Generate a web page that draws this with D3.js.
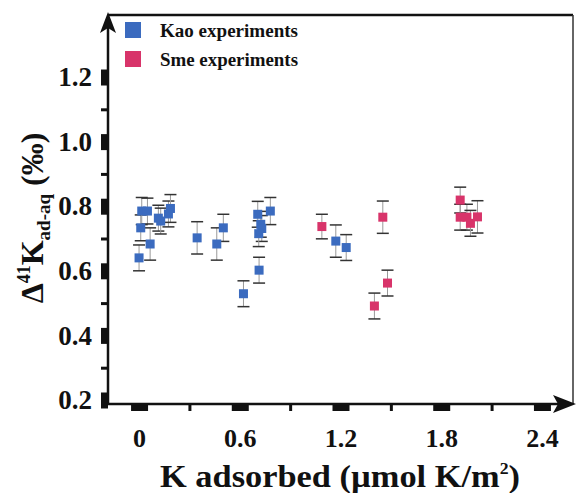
<!DOCTYPE html>
<html>
<head>
<meta charset="utf-8">
<script src="https://cdn.jsdelivr.net/npm/d3@7"></script>
<style>
  body { margin: 0; background: #fff; }
  svg text { font-family: "Liberation Serif", "Times New Roman", Tinos, "DejaVu Serif", serif; font-weight: bold; fill: #111; }
</style>
</head>
<body>
<svg id="chart"></svg>
<script>
// Kao experiments (blue)
const kaoX   = [0.00, 0.01, 0.016, 0.05, 0.066, 0.115, 0.129, 0.175, 0.187, 0.346, 0.463, 0.502, 0.622, 0.707, 0.725, 0.731, 0.713, 0.715, 0.782, 1.172, 1.234];
const kaoY   = [0.640, 0.733, 0.785, 0.785, 0.683, 0.763, 0.754, 0.776, 0.793, 0.702, 0.683, 0.733, 0.529, 0.775, 0.744, 0.731, 0.715, 0.602, 0.785, 0.692, 0.672];
const kaoErr = [0.04, 0.04, 0.042, 0.04, 0.05, 0.04, 0.04, 0.04, 0.043, 0.05, 0.05, 0.042, 0.04, 0.04, 0.04, 0.04, 0.04, 0.04, 0.042, 0.05, 0.04];

// Sme experiments (pink)
const smeX   = [1.089, 1.452, 1.402, 1.480, 1.913, 1.913, 1.953, 1.974, 2.016];
const smeY   = [0.737, 0.766, 0.491, 0.562, 0.819, 0.766, 0.766, 0.747, 0.767];
const smeErr = [0.038, 0.05, 0.04, 0.04, 0.04, 0.04, 0.04, 0.04, 0.05];

const xMajor = [0, 0.6, 1.2, 1.8, 2.4];
const xMinor = [0.3, 0.9, 1.5, 2.1];
const yMajor = [0.2, 0.4, 0.6, 0.8, 1.0, 1.2];
const yMinor = [0.3, 0.5, 0.7, 0.9, 1.1];

const seriesNames = ["Kao experiments", "Sme experiments"];
const colors = ["#3b6bbf", "#d8346a"];

const chartW = 576, chartH = 493;
const plotL = 108, plotR = 573, plotT = 15, plotB = 404;
const serif = '"Liberation Serif", "Times New Roman", Tinos, "DejaVu Serif", serif';

const svg = d3.select("#chart").attr("width", chartW).attr("height", chartH);

const x = d3.scaleLinear().domain([-0.185, 2.585]).range([plotL, plotR]);
const y = d3.scaleLinear().domain([0.1876, 1.392]).range([plotB, plotT]);

// y axis ticks (major = fat blocks, minor = short bars)
const yAxisMajor = svg.append("g").attr("transform", `translate(${plotL},0)`)
    .call(d3.axisLeft(y).tickValues(yMajor).tickSize(7).tickPadding(9)
        .tickFormat(d3.format(".1f")));
yAxisMajor.attr("font-family", serif).attr("font-size", 27);
yAxisMajor.select(".domain").remove();
yAxisMajor.selectAll(".tick line").attr("stroke", "#111").attr("stroke-width", 16);
yAxisMajor.selectAll(".tick text").attr("fill", "#111");

const yAxisMinor = svg.append("g").attr("transform", `translate(${plotL},0)`)
    .call(d3.axisLeft(y).tickValues(yMinor).tickSize(7).tickFormat(""));
yAxisMinor.select(".domain").remove();
yAxisMinor.selectAll(".tick line").attr("stroke", "#111").attr("stroke-width", 3);

// x axis ticks
const xAxisMajor = svg.append("g").attr("transform", `translate(0,${plotB})`)
    .call(d3.axisBottom(x).tickValues(xMajor).tickSize(7)
        .tickFormat(d => d === 0 ? "0" : d3.format(".1f")(d)));
xAxisMajor.attr("font-family", serif).attr("font-size", 26);
xAxisMajor.select(".domain").remove();
xAxisMajor.selectAll(".tick line").attr("stroke", "#111").attr("stroke-width", 17);
xAxisMajor.selectAll(".tick text").attr("y", 43).attr("dy", 0).attr("fill", "#111");

const xAxisMinor = svg.append("g").attr("transform", `translate(0,${plotB})`)
    .call(d3.axisBottom(x).tickValues(xMinor).tickSize(7).tickFormat(""));
xAxisMinor.select(".domain").remove();
xAxisMinor.selectAll(".tick line").attr("stroke", "#111").attr("stroke-width", 3);

// frame: top and right lines, then the two arrowed axes
svg.append("line").attr("x1", plotL).attr("x2", plotR).attr("y1", plotT).attr("y2", plotT)
    .attr("stroke", "#111").attr("stroke-width", 2.5);
svg.append("line").attr("x1", plotR).attr("x2", plotR).attr("y1", plotT).attr("y2", plotB)
    .attr("stroke", "#333").attr("stroke-width", 1.5);
svg.append("line").attr("x1", plotL).attr("x2", plotL).attr("y1", 24).attr("y2", plotB + 1)
    .attr("stroke", "#111").attr("stroke-width", 2.5);
svg.append("line").attr("x1", plotL - 1).attr("x2", 562).attr("y1", plotB).attr("y2", plotB)
    .attr("stroke", "#111").attr("stroke-width", 2.5);
svg.append("path").attr("d", `M${plotL},12 L${plotL - 8},33 L${plotL},28 L${plotL + 8},33 Z`).attr("fill", "#111");
svg.append("path").attr("d", `M576,${plotB} L553,${plotB - 9} L558,${plotB} L553,${plotB + 9} Z`).attr("fill", "#111");

// error bars + markers
function drawSeries(xs, ys, errs, color) {
    const data = xs.map((d, i) => ({x: d, y: ys[i], e: errs[i]}));
    const g = svg.append("g");
    const bars = g.selectAll("g.err").data(data).join("g").attr("class", "err");
    bars.append("line")
        .attr("x1", d => x(d.x)).attr("x2", d => x(d.x))
        .attr("y1", d => y(d.y + d.e)).attr("y2", d => y(d.y - d.e))
        .attr("stroke", "#999").attr("stroke-width", 1);
    [1, -1].forEach(s => {
        bars.append("line")
            .attr("x1", d => x(d.x) - 6).attr("x2", d => x(d.x) + 6)
            .attr("y1", d => y(d.y + s * d.e)).attr("y2", d => y(d.y + s * d.e))
            .attr("stroke", "#333").attr("stroke-width", 1.5);
    });
    g.selectAll("rect").data(data).join("rect")
        .attr("x", d => x(d.x) - 4.5).attr("y", d => y(d.y) - 4.5)
        .attr("width", 9).attr("height", 9)
        .attr("fill", color);
}
drawSeries(kaoX, kaoY, kaoErr, colors[0]);
drawSeries(smeX, smeY, smeErr, colors[1]);

// legend
const legend = svg.append("g").attr("font-family", serif);
seriesNames.forEach((name, i) => {
    legend.append("rect").attr("x", 125).attr("y", 22 + i * 29).attr("width", 16).attr("height", 16)
        .attr("fill", colors[i]);
    legend.append("text").attr("x", 160).attr("y", 37 + i * 29)
        .attr("font-size", 18).attr("textLength", 138).attr("lengthAdjust", "spacingAndGlyphs")
        .text(name);
});

// axis titles
const xt = svg.append("text").attr("x", 160).attr("y", 487)
    .attr("font-family", serif).attr("font-size", 31)
    .attr("textLength", 360).attr("lengthAdjust", "spacingAndGlyphs");
xt.append("tspan").text("K adsorbed (\u00b5mol K/m");
xt.append("tspan").attr("dy", -13).attr("font-size", 16).text("2");
xt.append("tspan").attr("dy", 13).text(")");

const yt = svg.append("text").attr("transform", "translate(43,218) rotate(-90)")
    .attr("text-anchor", "middle").attr("font-family", serif).attr("font-size", 32);
yt.append("tspan").text("\u0394");
yt.append("tspan").attr("dy", -13).attr("font-size", 18).text("41");
yt.append("tspan").attr("dy", 13).text("K");
yt.append("tspan").attr("dy", 7).attr("font-size", 19).text("ad-aq");
yt.append("tspan").attr("dy", -7).text(" (\u2030)");
</script>
</body>
</html>
